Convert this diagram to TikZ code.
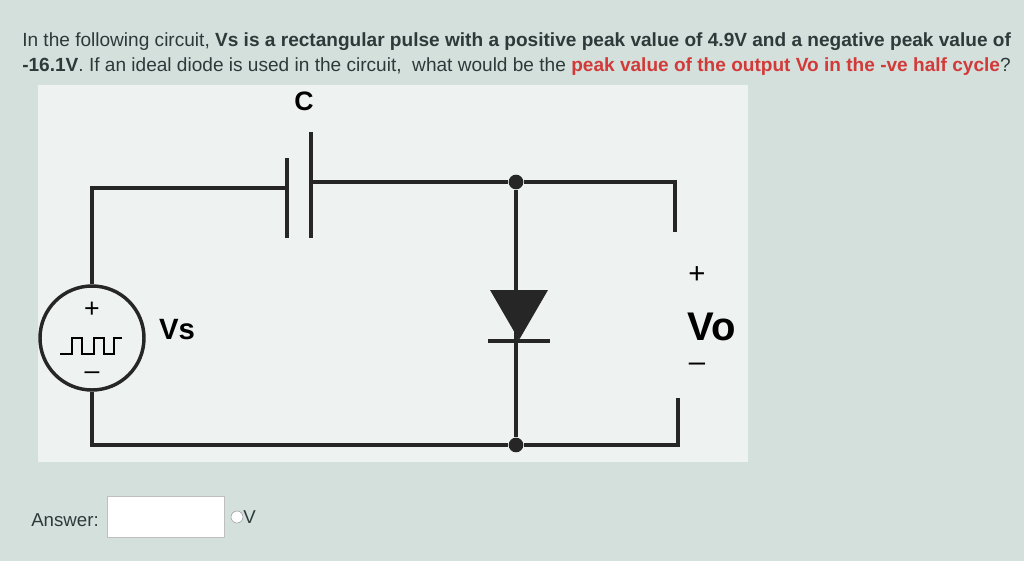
\documentclass[tikz,border=0pt]{standalone}
\usepackage{fontspec}
\setmainfont{Liberation Sans}
\begin{document}
\begin{tikzpicture}[x=0.75pt,y=-0.75pt,
  wire/.style={line width=2.6pt,color=black!85},
  dotn/.style={circle,fill=black!85,inner sep=0pt,minimum size=11pt},
  txt/.style={font=\fontsize{14.3}{16}\selectfont,anchor=west,inner sep=0pt}]
\definecolor{bg}{HTML}{D3E0DB}
\definecolor{panel}{HTML}{EEF2F0}
\definecolor{qred}{HTML}{D23A3A}
\definecolor{qtext}{HTML}{2E3A3A}
\fill[bg] (0,0) rectangle (1024,561);
\useasboundingbox (0,0) rectangle (1024,561);
\fill[panel] (38,85) rectangle (748,462);
\node[txt,text=qtext] (l1) at (22,42) {In the following circuit, \textbf{Vs is a rectangular pulse with a positive peak value of 4.9V and a negative peak value of}};
\node[txt,text=qtext] (l2) at (22,67) {\textbf{-16.1V}. If an ideal diode is used in the circuit,\ \ what would be the \textcolor{qred}{\textbf{peak value of the output Vo in the -ve half cycle}}?};
\node[font=\bfseries\fontsize{20}{22}\selectfont] (C) at (304,101) {C};
\coordinate (tl) at (92,188);
\coordinate (cl) at (287,188);
\coordinate (cr) at (311,182);
\coordinate (tr) at (675,182);
\coordinate (tre) at (675,232);
\coordinate (bl) at (92,445);
\coordinate (br) at (678,445);
\coordinate (bre) at (678,398);
\node[dotn] (d1) at (516,182) {};
\node[dotn] (d2) at (516,445) {};
\node[circle,draw=black!85,line width=2.6pt,fill=panel,minimum size=78pt] (src) at (92,338) {};
\draw[wire] (src.north) -- (tl) -- (cl);
\draw[wire] (287,158) -- (287,238);
\draw[wire] (311,132) -- (311,238);
\draw[wire] (cr) -- (d1) -- (tr) -- (tre);
\draw[wire] (src.south) -- (bl) -- (d2) -- (br) -- (bre);
\draw[wire] (d1) -- (d2);
\fill[black!85] (490,290) -- (548,290) -- (519,340) -- cycle;
\draw[wire] (488,341) -- (550,341);
\node[font=\fontsize{20}{20}\selectfont] (sp) at (92,310) {+};
\node[font=\fontsize{20}{20}\selectfont] (sm) at (92,376) {--};
\draw[line width=1.4pt] (60,354) -- (72,354) -- (72,338) -- (82,338) -- (82,354) -- (94,354) -- (94,338) -- (104,338) -- (104,354) -- (114,354) -- (114,338) -- (122,338);
\node[font=\bfseries\fontsize{22}{24}\selectfont] (vs) at (177,330) {Vs};
\node[font=\bfseries\fontsize{30}{32}\selectfont] (vo) at (712,327) {Vo};
\node[font=\fontsize{22}{22}\selectfont] (vp) at (697,275) {+};
\node[font=\fontsize{22}{22}\selectfont] (vm) at (697,367) {--};
\node[font=\fontsize{14}{16}\selectfont,text=qtext] (ans) at (65,520) {Answer:};
\node[draw=black!25,fill=white,minimum width=88pt,minimum height=31pt,inner sep=0pt] (box) at (166,517) {};
\node[circle,draw=black!40,fill=white,minimum size=9pt,inner sep=0pt] (rad) at (237,517) {};
\node[font=\fontsize{14}{16}\selectfont,text=qtext,anchor=west,inner sep=0pt] (V) at (243,517) {V};
\end{tikzpicture}
\end{document}
